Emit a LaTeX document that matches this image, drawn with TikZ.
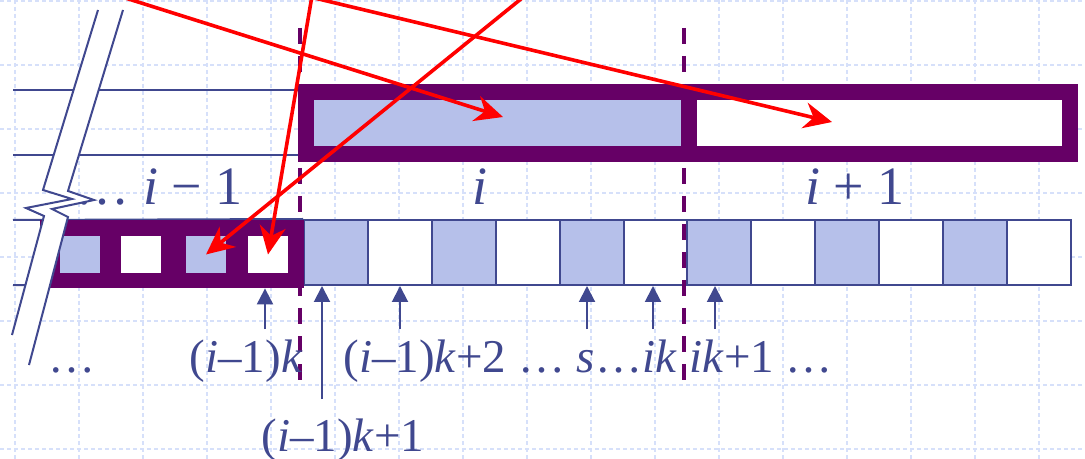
\documentclass[tikz,border=0pt]{standalone}
\usepackage{fontspec}
\setmainfont{Liberation Serif}
\usetikzlibrary{arrows.meta}
\definecolor{slideblue}{RGB}{64,72,143}
\definecolor{cellfill}{RGB}{182,192,234}
\definecolor{blockpurple}{RGB}{102,0,102}
\definecolor{gridblue}{RGB}{214,224,250}
\tikzset{
  gridline/.style={gridblue, line width=0.75pt, dash pattern=on 2pt off 1.5pt},
  railline/.style={slideblue, line width=1pt},
  cellbox/.style={rectangle, draw=slideblue, line width=1pt, inner sep=0pt,
                  minimum width=31.95pt, minimum height=32.5pt},
  blockbox/.style={rectangle, draw=blockpurple, line width=8pt, inner sep=0pt,
                   minimum height=31pt},
  hole/.style={rectangle, inner sep=0pt, minimum width=20pt, minimum height=18.5pt},
  blockdash/.style={blockpurple, line width=2pt, dash pattern=on 8pt off 6pt},
  idxarrow/.style={-{Triangle[length=8pt,width=8pt]}, slideblue, line width=1pt},
  ptrarrow/.style={-{Stealth[length=14pt,width=13pt]}, red, line width=1.8pt},
  blocklabel/.style={text=slideblue, inner sep=0pt, font=\fontsize{27}{31}\selectfont},
  idxlabel/.style={text=slideblue, inner sep=0pt, font=\fontsize{23.5}{27}\selectfont},
}
\begin{document}
\begin{tikzpicture}[x=0.5pt,y=-0.5pt]
\useasboundingbox (0,0) rectangle (1085,459);
\begin{scope}
\clip (0,0) rectangle (1085,459);
\fill[white] (0,0) rectangle (1085,459);
\foreach \gx in {15,79,...,1039} \draw[gridline] (\gx,0) -- (\gx,459);
\foreach \gy in {1,65,...,449} \draw[gridline] (0,\gy) -- (1085,\gy);
\draw[railline] (13,90) -- (300,90);
\draw[railline] (13,155) -- (300,155);
\node[blockbox, fill=cellfill, minimum width=191.25pt] (blkI) at (497.25,123) {};
\node[blockbox, fill=white, minimum width=190.75pt] (blkInext) at (879.25,123) {};
\foreach \n in {0,...,11}{
  \pgfmathsetmacro{\cx}{335.95+63.9*\n}
  \ifodd\n \node[cellbox, fill=white] (c\n) at (\cx,252.5) {};
  \else \node[cellbox, fill=cellfill] (c\n) at (\cx,252.5) {}; \fi
}
\draw[railline] (13,220) -- (c0.north west);
\draw[railline] (13,285) -- (c0.south west);
\node[fill=blockpurple, inner sep=0pt, minimum width=132pt, minimum height=34pt] (blkprev) at (172,254) {};
\node[hole, fill=cellfill] (h1) at (80,254.5) {};
\node[hole, fill=white] (h2) at (141,254.5) {};
\node[hole, fill=cellfill] (h3) at (206,254.5) {};
\node[hole, fill=white] (h4) at (268,254.5) {};
\draw[blockdash] (300,28) -- (300,383);
\draw[blockdash] (684,28) -- (684,383);
\node[blocklabel, anchor=base east] (lblprev) at (243,205) {… \textit{i} − 1};
\node[blocklabel, anchor=base] (lblcur) at (480,205) {\textit{i}};
\node[blocklabel, anchor=base] (lblnext) at (855,205) {\textit{i} + 1};
\node[idxlabel, anchor=base west] (lbldots) at (48,372) {…};
\node[idxlabel, anchor=base east] (lblk) at (303,372) {(\textit{i}–1)\textit{k}};
\node[idxlabel, anchor=base west] (lblktwo) at (343,372) {(\textit{i}–1)\textit{k}+2 … \textit{s}…\textit{ik}};
\node[idxlabel, anchor=base west] (lblikone) at (689,372) {\textit{ik}+1 …};
\node[idxlabel, anchor=base] (lblkone) at (343,451) {(\textit{i}–1)\textit{k}+1};
\coordinate (tk) at (265,329);
\coordinate (tkone) at (322,399);
\coordinate (tktwo) at (400,329);
\coordinate (ts) at (587,329);
\coordinate (tik) at (653,329);
\coordinate (tikone) at (715,329);
\draw[idxarrow] (tk) -- (tk |- blkprev.south);
\draw[idxarrow] (tkone) -- (tkone |- c0.south);
\draw[idxarrow] (tktwo) -- (tktwo |- c1.south);
\draw[idxarrow] (ts) -- (ts |- c4.south);
\draw[idxarrow] (tik) -- (tik |- c5.south);
\draw[idxarrow] (tikone) -- (tikone |- c6.south);
\fill[white] (98,10) -- (43,190) -- (72,199) -- (26,208) -- (44,216) -- (12,335)
  -- (29,365) -- (68,217) -- (52,209) -- (94,200) -- (68,191) -- (123,10) -- cycle;
\draw[railline] (98,10) -- (43,190) -- (72,199) -- (26,208) -- (44,216) -- (12,335);
\draw[railline] (123,10) -- (68,191) -- (94,200) -- (52,209) -- (68,217) -- (29,365);
\coordinate (src1) at (100,-10);
\coordinate (src2) at (313,-10);
\coordinate (src3) at (532,-10);
\coordinate (src4) at (281,-10);
\coordinate (dstI) at (503,117);
\coordinate (dstInext) at (832,122);
\draw[ptrarrow] (src1) -- (dstI);
\draw[ptrarrow] (src2) -- (h4.center);
\draw[ptrarrow] (src3) -- (h3.center);
\draw[ptrarrow] (src4) -- (dstInext);
\end{scope}
\end{tikzpicture}
\end{document}
